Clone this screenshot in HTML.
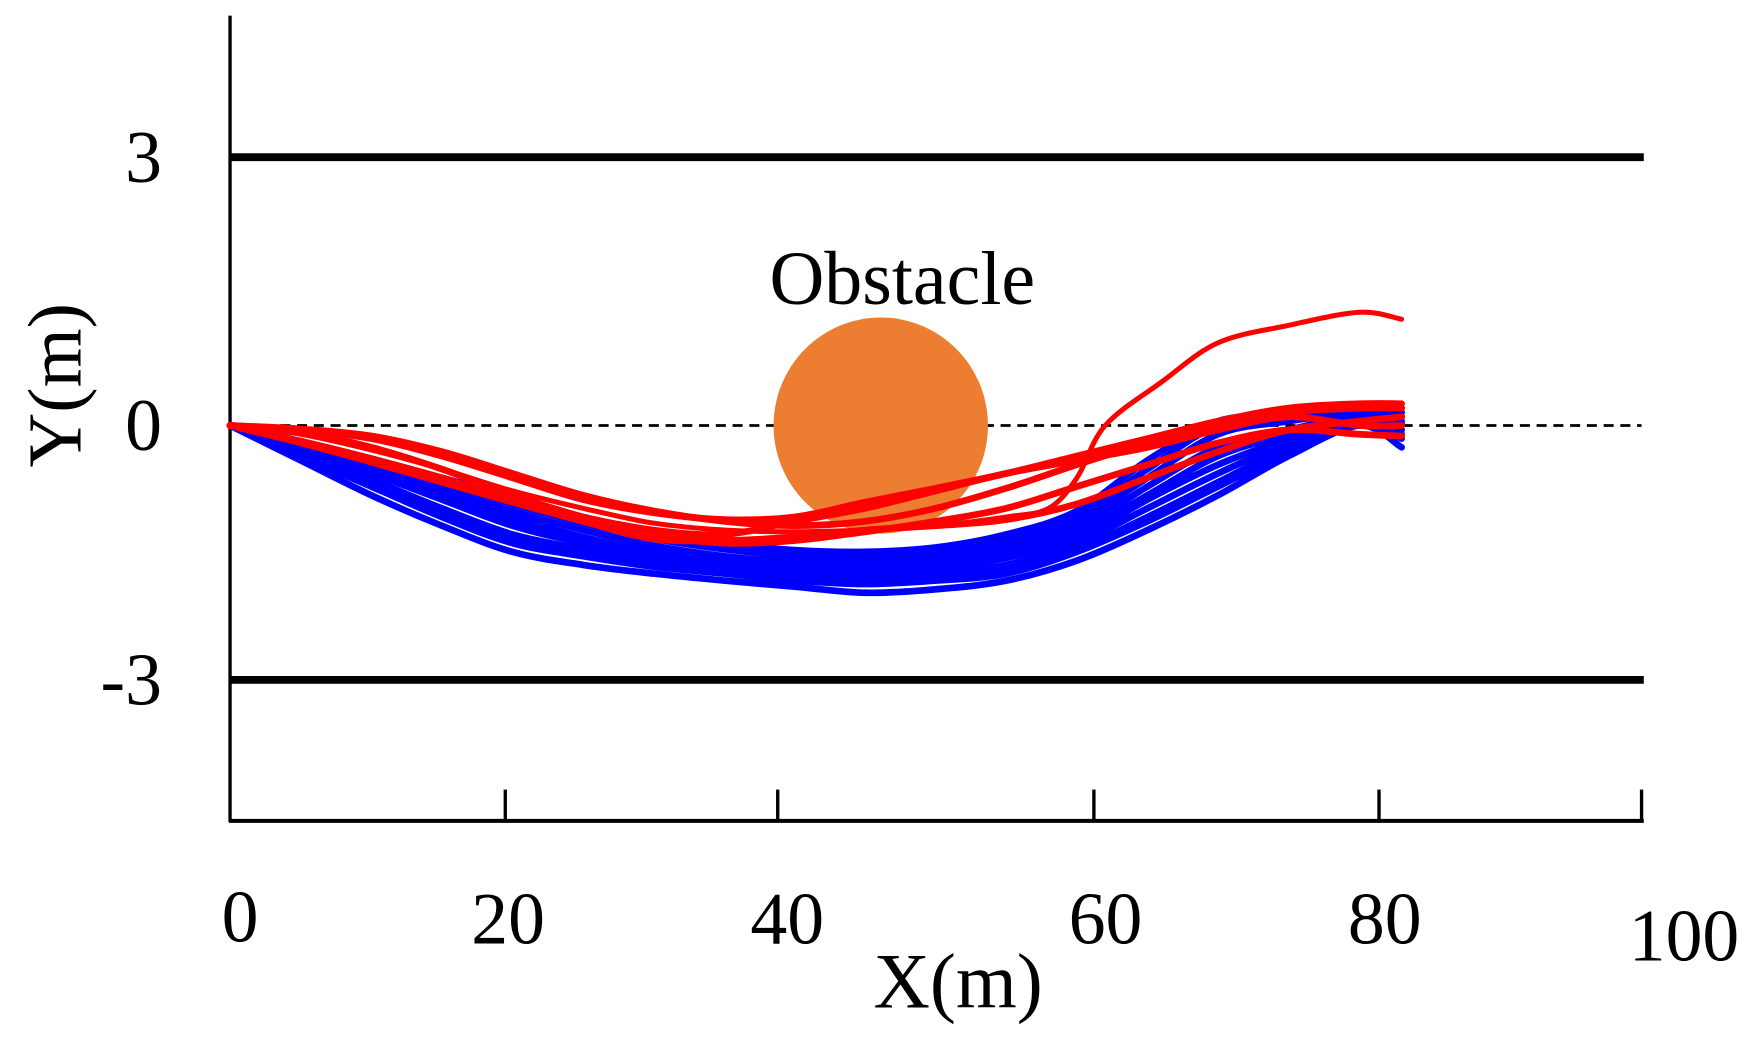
<!DOCTYPE html>
<html><head><meta charset="utf-8"><style>
html,body{margin:0;padding:0;background:#fff;}
svg{display:block;}
text{font-family:"Liberation Serif",serif;fill:#000;}
</style></head><body>
<svg id="chart" width="1751" height="1042" viewBox="0 0 1568 933" preserveAspectRatio="none" xmlns="http://www.w3.org/2000/svg">
<g id="lanes"></g>
<g id="axes"></g>
<g id="series"></g>
<g id="labels"></g>
</svg>
<script>
const xGrid = [0,5,10,15,20,25,30,35,40,45,50,55,60,65,70,75,80,83];
const blueSeries = [
[0,-0.4,-0.8,-1.15,-1.45,-1.6,-1.7,-1.78,-1.85,-1.92,-1.88,-1.78,-1.55,-1.2,-0.8,-0.35,0.0,-0.25],
[0,-0.35,-0.7,-1.05,-1.35,-1.5,-1.62,-1.7,-1.78,-1.82,-1.78,-1.7,-1.45,-1.1,-0.7,-0.3,0.05,-0.15],
[0,-0.3,-0.62,-0.95,-1.25,-1.42,-1.55,-1.64,-1.72,-1.75,-1.7,-1.6,-1.35,-0.95,-0.55,-0.2,0.08,-0.05],
[0,-0.28,-0.55,-0.85,-1.15,-1.35,-1.5,-1.6,-1.68,-1.7,-1.65,-1.52,-1.3,-0.85,-0.45,-0.15,0.1,0.0],
[0,-0.25,-0.5,-0.78,-1.05,-1.28,-1.45,-1.55,-1.62,-1.64,-1.58,-1.45,-1.2,-0.7,-0.25,-0.05,0.12,0.05],
[0,-0.22,-0.45,-0.72,-0.98,-1.2,-1.38,-1.5,-1.57,-1.58,-1.52,-1.38,-1.12,-0.6,-0.1,0.05,0.15,0.1],
[0,-0.2,-0.42,-0.65,-0.9,-1.12,-1.3,-1.42,-1.5,-1.52,-1.45,-1.32,-1.05,-0.5,0.0,0.1,0.18,0.15],
[0,-0.18,-0.38,-0.6,-0.82,-1.05,-1.22,-1.35,-1.43,-1.45,-1.4,-1.25,-0.98,-0.4,0.05,0.12,0.2,0.2],
[0,-0.32,-0.66,-1.0,-1.3,-1.48,-1.6,-1.68,-1.75,-1.78,-1.74,-1.66,-1.42,-1.05,-0.65,-0.25,0.05,-0.1],
[0,-0.26,-0.52,-0.82,-1.12,-1.32,-1.48,-1.58,-1.65,-1.68,-1.62,-1.5,-1.25,-0.8,-0.35,-0.1,0.1,0.02]
];
const redSeries = [
[0,-0.05,-0.15,-0.35,-0.6,-0.85,-1.0,-1.08,-1.05,-0.88,-0.72,-0.55,-0.35,-0.15,0.05,0.2,0.25,0.25],
[0,-0.04,-0.12,-0.3,-0.55,-0.8,-0.98,-1.1,-1.15,-1.1,-0.95,-0.72,-0.45,-0.2,0.0,0.15,0.2,0.2],
[0,-0.2,-0.42,-0.65,-0.88,-1.1,-1.3,-1.32,-1.28,-1.2,-1.15,-1.08,-0.9,-0.6,-0.3,-0.05,0.05,0.1],
[0,-0.18,-0.38,-0.6,-0.85,-1.05,-1.2,-1.25,-1.1,-0.95,-0.75,-0.55,-0.4,-0.25,-0.05,0.1,0.0,0.0],
[0,-0.08,-0.25,-0.5,-0.8,-1.05,-1.25,-1.35,-1.32,-1.22,-1.1,-0.95,-0.7,-0.45,-0.2,-0.05,-0.1,-0.12]
];
const redJumpX = [0,5,10,15,20,25,30,35,40,45,50,55,58,60,62,66,70,75,80,83];
const redJumpY = [0,-0.1,-0.28,-0.5,-0.75,-0.95,-1.12,-1.2,-1.22,-1.2,-1.15,-1.05,-0.95,-0.6,0.0,0.5,0.95,1.15,1.3,1.22];
const xTickValues = [19.5,38.8,61.2,81.4,100];
const xTickLabels = ["20","40","60","80","100"];
const laneValues = [3.08,-2.92];
const yTickValues = [3.08,0,-2.92];
const yTickLabels = ["3","0","-3"];
const obstacle = {x:46.1, y:0, r:1.24};

const X0=206, X1=1470, Y0=381, YS=78;
const sx = v => X0 + (X1-X0)*v/100;
const sy = v => Y0 - YS*v;
const NS="http://www.w3.org/2000/svg";
function mk(tag, attrs, parent){const e=document.createElementNS(NS,tag);for(const k in attrs)e.setAttribute(k,attrs[k]);parent.appendChild(e);return e;}
const lanes=document.getElementById('lanes'), axes=document.getElementById('axes'), series=document.getElementById('series'), labels=document.getElementById('labels');

let e;
laneValues.forEach((v,i)=>{
  const l=mk('line',{x1:sx(0),x2:1472,y1:sy(v),y2:sy(v),stroke:'#000','stroke-width':7},lanes);
  
  
});
e=mk('line',{x1:sx(0),x2:1470,y1:sy(0),y2:sy(0),stroke:'#000','stroke-width':2.5,'stroke-dasharray':'9 6'},lanes);



e=mk('ellipse',{cx:sx(obstacle.x),cy:sy(obstacle.y),rx:96,ry:YS*obstacle.r,fill:'#ED7D31'},series);



function smooth(xs,ys){
  const P=xs.map((x,i)=>[sx(x),sy(ys[i])]);
  let d='M'+P[0][0]+','+P[0][1];
  for(let i=0;i<P.length-1;i++){
    const p0=P[i-1]||P[i], p1=P[i], p2=P[i+1], p3=P[i+2]||p2;
    const c1=[p1[0]+(p2[0]-p0[0])/6, p1[1]+(p2[1]-p0[1])/6];
    const c2=[p2[0]-(p3[0]-p1[0])/6, p2[1]-(p3[1]-p1[1])/6];
    d+=' C'+c1[0]+','+c1[1]+' '+c2[0]+','+c2[1]+' '+p2[0]+','+p2[1];
  }
  return d;
}
blueSeries.forEach((ys,i)=>{
  const p=mk('path',{d:smooth(xGrid,ys),fill:'none',stroke:'#0000FF','stroke-width':6,'stroke-linejoin':'round','stroke-linecap':'round'},series);
  
  
});
redSeries.forEach((ys,i)=>{
  const p=mk('path',{d:smooth(xGrid,ys),fill:'none',stroke:'#FF0000','stroke-width':6,'stroke-linejoin':'round','stroke-linecap':'round'},series);
  
  
});
e=mk('path',{d:smooth(redJumpX,redJumpY),fill:'none',stroke:'#FF0000','stroke-width':4.5,'stroke-linejoin':'round','stroke-linecap':'round'},series);



e=mk('line',{x1:206,x2:206,y1:14,y2:736,stroke:'#000','stroke-width':3},axes);


e=mk('line',{x1:205,x2:1472,y1:735,y2:735,stroke:'#000','stroke-width':3.5},axes);


const xLabelPos=[[455,845],[705,845],[990,845],[1240,845],[1508,860]];
xTickValues.forEach((v,i)=>{
  const t=mk('line',{x1:sx(v),x2:sx(v),y1:707,y2:735,stroke:'#000','stroke-width':3},axes);
  
  
  const l=mk('text',{x:xLabelPos[i][0],y:xLabelPos[i][1],'font-size':66,'text-anchor':'middle'},labels);
  l.textContent=xTickLabels[i];
  
  
});
e=mk('text',{x:215,y:843,'font-size':66,'text-anchor':'middle'},labels);
e.textContent='0';


yTickValues.forEach((v,i)=>{
  const l=mk('text',{x:145,y:sy(v)+22,'font-size':66,'text-anchor':'end'},labels);
  l.textContent=yTickLabels[i];
  
  
});
e=mk('text',{x:858,y:902,'font-size':70,'text-anchor':'middle'},labels);
e.textContent='X(m)';


e=mk('text',{x:0,y:0,'font-size':68,'text-anchor':'middle',transform:'translate(72,345) rotate(-90)'},labels);
e.textContent='Y(m)';


e=mk('text',{x:808,y:272,'font-size':68,'text-anchor':'middle'},labels);
e.textContent='Obstacle';


</script>
</body></html>
